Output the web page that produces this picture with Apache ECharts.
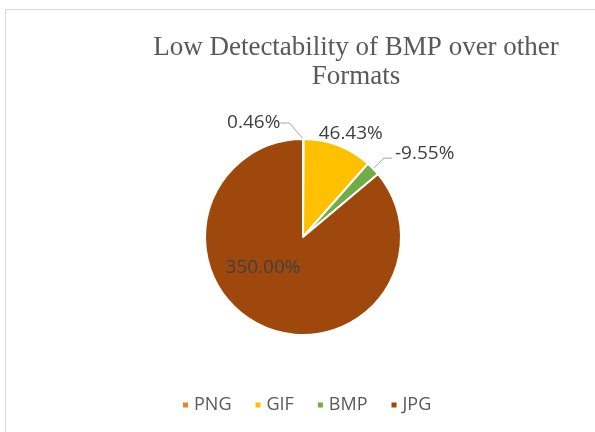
<!DOCTYPE html>
<html>
<head>
<meta charset="utf-8">
<script src="https://cdn.jsdelivr.net/npm/echarts@6/dist/echarts.min.js"></script>
<style>
html,body{margin:0;padding:0;background:#fff;}
#c{width:595px;height:432px;}
</style>
</head>
<body>
<div id="c"></div>
<script>
// Data
const categories = ['PNG', 'GIF', 'BMP', 'JPG'];
const values = [0.46, 46.43, -9.55, 350.00];
const titleText = 'Low Detectability of BMP over other\nFormats';

// Styles
const colors = ['#ED7D31', '#FFC000', '#70AD47', '#9E480E'];
const labelFont = 'Open Sans';

const chart = echarts.init(document.getElementById('c'), null, {renderer: 'canvas'});

const data = categories.map((name, i) => {
  const item = {
    name: name,
    value: Math.abs(values[i]),
    itemStyle: {color: colors[i]}
  };
  if (i === 3) {
    item.label = {position: 'inside'};
  }
  if (i === 1) {
    item.labelLine = {show: false};
  }
  if (i === 2) {
    item.labelLine = {length: 15, length2: 8};
  }
  return item;
});

chart.setOption({
  backgroundColor: '#ffffff',
  animation: false,
  graphic: [{
    type: 'rect',
    shape: {x: 5.5, y: 9.5, width: 800, height: 600},
    style: {fill: 'none', stroke: '#d9d9d9', lineWidth: 1},
    silent: true,
    z: -10
  }],
  title: {
    text: titleText,
    left: 351,
    top: 28,
    textAlign: 'center',
    textStyle: {
      fontFamily: 'Liberation Serif',
      fontSize: 27,
      fontWeight: 'normal',
      color: '#595959',
      lineHeight: 29
    }
  },
  legend: {
    data: categories,
    bottom: 13,
    left: 176,
    icon: 'rect',
    itemWidth: 7,
    itemHeight: 7,
    itemGap: 22,
    textStyle: {fontFamily: labelFont, fontSize: 18, color: '#595959'}
  },
  series: [{
    type: 'pie',
    center: [303, 237],
    radius: 98,
    startAngle: 90,
    clockwise: true,
    avoidLabelOverlap: false,
    itemStyle: {borderColor: '#ffffff', borderWidth: 2},
    label: {
      show: true,
      position: 'outside',
      fontFamily: labelFont,
      fontSize: 19,
      color: '#404040',
      formatter: p => values[p.dataIndex].toFixed(2) + '%'
    },
    labelLine: {
      show: true,
      length: 10,
      length2: 9,
      lineStyle: {color: '#a6a6a6', width: 1}
    },
    labelLayout: function (params) {
      const i = params.dataIndex;
      if (i === 0 && params.labelLinePoints) {
        const p0 = params.labelLinePoints[0];
        return {x: p0[0] - 23, y: p0[1] - 16, align: 'right', verticalAlign: 'middle'};
      }
      if (i === 1) return {dx: -37, dy: -3};
      if (i === 2) return {dx: -2, dy: -5};
      if (i === 3) return {dx: -18, dy: -17};
      return {};
    },
    data: data
  }]
});
</script>
</body>
</html>
